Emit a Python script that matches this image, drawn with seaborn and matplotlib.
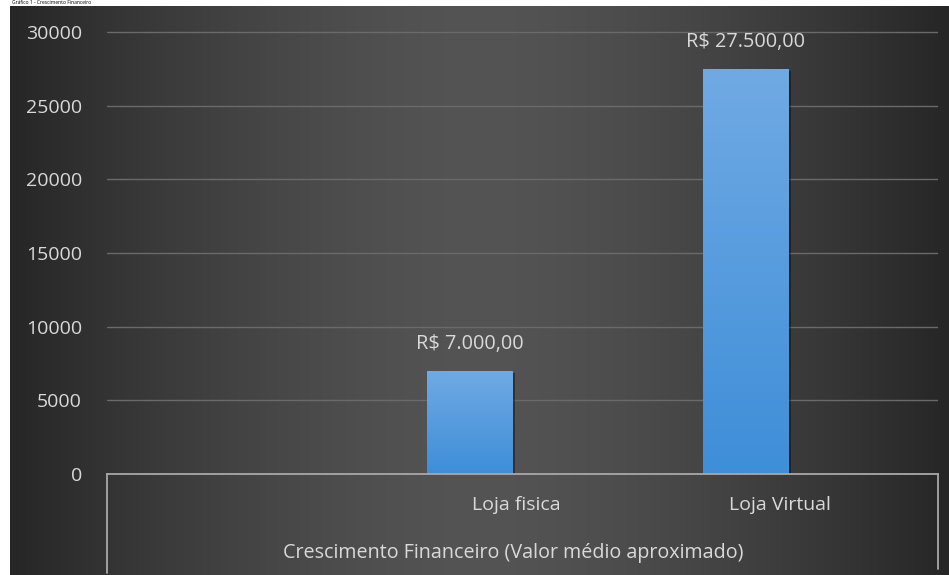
import numpy as np
import matplotlib
matplotlib.use("Agg")
import matplotlib.pyplot as plt
import matplotlib.patheffects as pe
import seaborn as sns
import pandas as pd
from matplotlib import transforms

# ---- data ----
categories = ["Loja fisica", "Loja Virtual"]
values = [7000, 27500]
value_labels = ["R$ 7.000,00", "R$ 27.500,00"]
group_label = "Crescimento Financeiro (Valor médio aproximado)"
y_ticks = [0, 5000, 10000, 15000, 20000, 25000, 30000]
title = "Gráfico 1 - Crescimento Financeiro"

sns.set_theme(style="dark")
plt.rcParams['font.family'] = ['Open Sans', 'DejaVu Sans']

W, H = 949, 575
fig = plt.figure(figsize=(W / 100, H / 100), dpi=100)
fig.patch.set_facecolor('white')

# small title in the white strip at the top
fig.text(12 / W, 1 - 0.5 / H, title, va='top', ha='left', color='black', fontsize=3.6)

# dark gradient background
bg = fig.add_axes([10 / W, 0, (W - 10) / W, (H - 6) / H])
bg.set_axis_off()
xs = np.linspace(-1, 1, 600)
ys = np.linspace(-1, 1, 300)
X, Y = np.meshgrid(xs, ys)
g = (84 - 46 * np.abs(X) ** 1.5) / 255.0
img = np.dstack([g, g, g])
bg.imshow(img, aspect='auto', extent=[0, 1, 0, 1], interpolation='bilinear')
bg.set_xlim(0, 1)
bg.set_ylim(0, 1)

# main axes
ax_left, ax_right, ax_bottom, ax_top = 107, 938, 474, 28
ax = fig.add_axes([ax_left / W, (H - ax_bottom) / H, (ax_right - ax_left) / W, (ax_bottom - ax_top) / H])
ax.set_facecolor('none')

df = pd.DataFrame({"categoria": categories, "valor": values})
sns.barplot(data=df, x="categoria", y="valor", ax=ax, color="#5b9bd5", width=0.31,
            saturation=1, zorder=3, linewidth=0)

ylim_top = 30000 * (ax_bottom - ax_top) / (ax_bottom - 32)
xlim = (-(470 - ax_left) / 276, (ax_right - 470) / 276)

# gradient fill on bars
grad = np.linspace(0, 1, 256).reshape(-1, 1)
top_c = np.array([112, 170, 228]) / 255
bot_c = np.array([62, 142, 216]) / 255
grad_img = top_c * (1 - grad[..., None]) + bot_c * grad[..., None]
grad_img = np.repeat(grad_img, 2, axis=1)
for p in list(ax.patches):
    x0, y0 = p.get_x(), p.get_y()
    w, h = p.get_width(), p.get_height()
    p.set_edgecolor('none')
    p.set_path_effects([pe.SimplePatchShadow(offset=(1.5, -1.5), shadow_rgbFace='black', alpha=0.4), pe.Normal()])
    im = ax.imshow(grad_img, extent=[x0, x0 + w, y0, y0 + h], aspect='auto', zorder=4, interpolation='bilinear')
    im.set_clip_path(p)
ax.set_ylim(0, ylim_top)
ax.set_xlim(*xlim)

# grid & spines
ax.set_yticks(y_ticks)
ax.yaxis.grid(True, color='#6a6a6a', lw=1, zorder=0)
ax.xaxis.grid(False)
for s in ['top', 'right', 'left']:
    ax.spines[s].set_visible(False)
ax.spines['bottom'].set_color('#a8a8a8')
ax.spines['bottom'].set_linewidth(1.3)
ax.spines['bottom'].set_zorder(5)
ax.tick_params(axis='y', length=0, pad=18, labelcolor='#d9d9d9', labelsize=14)
ax.set_yticklabels([str(t) for t in y_ticks])
ax.set_xticks([])
ax.set_xlabel("")
ax.set_ylabel("")

# vertical lines of the multi-level category axis
ax.plot([0, 0], [0, -0.222], transform=ax.transAxes, color='#a8a8a8', lw=1.3, clip_on=False)
ax.plot([1, 1], [0, -0.212], transform=ax.transAxes, color='#a8a8a8', lw=1.3, clip_on=False)

# category labels
trans = transforms.blended_transform_factory(ax.transData, ax.transAxes)
label_offsets = [0.167, 0.123]
for i, (cat, off) in enumerate(zip(categories, label_offsets)):
    ax.text(i + off, -(505 - ax_bottom) / (ax_bottom - ax_top), cat, transform=trans,
            ha='center', va='center', color='#d9d9d9', fontsize=14)
ax.text((513 - ax_left) / (ax_right - ax_left), -(553 - ax_bottom) / (ax_bottom - ax_top), group_label,
        transform=ax.transAxes, ha='center', va='center', color='#d9d9d9', fontsize=14.2)

# value labels
for i, (v, lbl) in enumerate(zip(values, value_labels)):
    ax.annotate(lbl, (i, v), xytext=(0, 19), textcoords='offset points', ha='center', va='center',
                color='#d9d9d9', fontsize=14.3)

fig.savefig("out.png", dpi=100)
